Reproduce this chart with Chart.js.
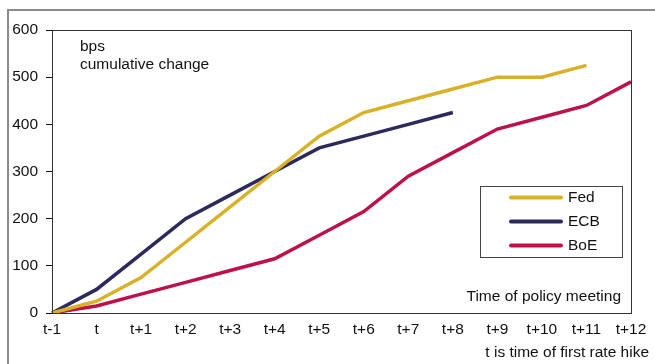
<!DOCTYPE html>
<html>
<head>
<meta charset="utf-8">
<script src="https://cdn.jsdelivr.net/npm/chart.js@4/dist/chart.umd.min.js"></script>
<style>
    html, body { margin: 0; padding: 0; background: #ffffff; }
    #wrap { width: 655px; height: 364px; }
</style>
</head>
<body>
<div id="wrap"><canvas id="chartRates" width="655" height="364"></canvas></div>
<script>
/* ====================================
   DATOS
   ==================================== */

const meetings = ['t-1', 't', 't+1', 't+2', 't+3', 't+4', 't+5', 't+6', 't+7', 't+8', 't+9', 't+10', 't+11', 't+12'];
const fedValues = [0, 25, 75, 150, 225, 300, 375, 425, 450, 475, 500, 500, 525, null];
const ecbValues = [0, 50, 125, 200, 250, 300, 350, 375, 400, 425, null, null, null, null];
const boeValues = [0, 15, 40, 65, 90, 115, 165, 215, 290, 340, 390, 415, 440, 490];
const yTicks = [0, 100, 200, 300, 400, 500, 600];

const FONT = '"Liberation Sans", Arial, sans-serif';

/* ====================================
   PLUGIN: marco, leyenda y textos
   ==================================== */

const Decor = {
    id: 'decor',
    afterDraw(chart) {
        const ctx = chart.ctx;
        const area = chart.chartArea;
        ctx.save();

        // marco exterior gris
        ctx.strokeStyle = '#8a8a8a';
        ctx.lineWidth = 2;
        ctx.beginPath();
        ctx.moveTo(8, 364);
        ctx.lineTo(8, 10);
        ctx.lineTo(655, 10);
        ctx.stroke();

        // caja del área de trazado
        ctx.strokeStyle = '#333333';
        ctx.lineWidth = 1;
        ctx.strokeRect(Math.round(area.left) + 0.5, Math.round(area.top) + 0.5,
            Math.round(area.right - area.left), Math.round(area.bottom - area.top));

        // leyenda
        ctx.strokeStyle = '#444444';
        ctx.strokeRect(480.5, 186.5, 142, 71);
        ctx.font = '15.5px ' + FONT;
        ctx.textBaseline = 'middle';
        ctx.textAlign = 'left';
        chart.data.datasets.forEach((ds, i) => {
            const y = 197.5 + i * 24;
            ctx.strokeStyle = ds.borderColor;
            ctx.lineWidth = 4;
            ctx.lineCap = 'round';
            ctx.beginPath();
            ctx.moveTo(511, y);
            ctx.lineTo(561, y);
            ctx.stroke();
            ctx.fillStyle = '#111111';
            ctx.fillText(ds.label, 568, y);
        });

        // anotaciones
        ctx.fillStyle = '#111111';
        ctx.fillText('bps', 80, 47);
        ctx.fillText('cumulative change', 80, 65);
        ctx.textAlign = 'right';
        ctx.fillText('Time of policy meeting', 621, 297);
        ctx.fillText('t is time of first rate hike', 649, 353);

        ctx.restore();
    }
};

/* ====================================
   GRÁFICO
   ==================================== */

const ctx = document.getElementById('chartRates');

new Chart(ctx, {
    type: 'line',
    data: {
        labels: meetings,
        datasets: [
            {
                label: 'Fed',
                data: fedValues,
                borderColor: '#d8b127',
                borderWidth: 3.5,
                pointRadius: 0,
                tension: 0,
                spanGaps: false
            },
            {
                label: 'ECB',
                data: ecbValues,
                borderColor: '#2c295d',
                borderWidth: 3.5,
                pointRadius: 0,
                tension: 0
            },
            {
                label: 'BoE',
                data: boeValues,
                borderColor: '#bd1249',
                borderWidth: 3.5,
                pointRadius: 0,
                tension: 0
            }
        ]
    },
    options: {
        responsive: false,
        animation: false,
        layout: {
            padding: { top: 30, right: 24, bottom: 0, left: 0 }
        },
        plugins: {
            legend: { display: false },
            tooltip: { enabled: false }
        },
        scales: {
            x: {
                type: 'category',
                offset: false,
                grid: { display: false, drawTicks: false },
                border: { display: true, color: '#111111', width: 1 },
                ticks: {
                    color: '#111111',
                    font: { family: FONT, size: 15.5 },
                    padding: 7,
                    maxRotation: 0,
                    autoSkip: false
                },
                afterFit: (scale) => { scale.height = 51; }
            },
            y: {
                min: 0,
                max: 600,
                afterBuildTicks: (scale) => {
                    scale.ticks = yTicks.map(v => ({ value: v }));
                },
                grid: {
                    drawOnChartArea: false,
                    drawTicks: true,
                    tickLength: 6,
                    color: '#111111'
                },
                border: { display: true, color: '#111111', width: 1 },
                ticks: {
                    color: '#111111',
                    font: { family: FONT, size: 15.5 },
                    padding: 8
                },
                afterFit: (scale) => { scale.width = 52; }
            }
        }
    },
    plugins: [Decor]
});
</script>
</body>
</html>
